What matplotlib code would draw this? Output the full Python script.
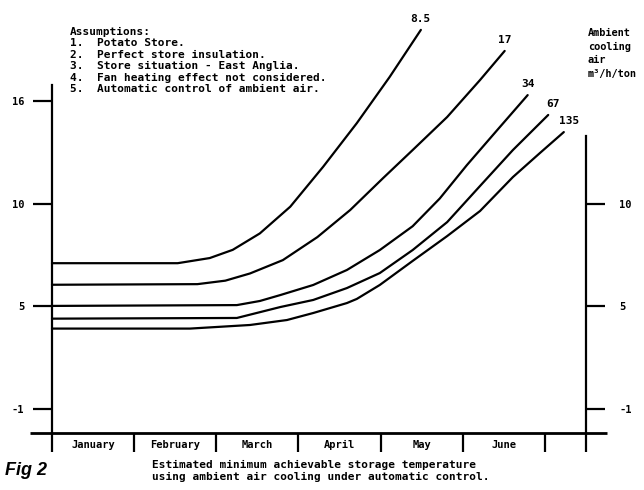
import numpy as np
import matplotlib
matplotlib.use("Agg")
import matplotlib.pyplot as plt

# month axis: 0 = start of January, one unit per month
months = ["January", "February", "March", "April", "May", "June"]
month_edges = [0, 1, 2, 3, 4, 5, 6, 6.5]

# minimum achievable store temperature (deg C) for each airflow rate
airflow_labels = ["8.5", "17", "34", "67", "135"]
x_85 = [0, 1.53, 1.92, 2.20, 2.53, 2.90, 3.30, 3.71, 4.11, 4.49]
t_85 = [7.1, 7.1, 7.35, 7.75, 8.55, 9.85, 12.15, 14.7, 17.4, 20.15]
x_17 = [0, 1.77, 2.11, 2.41, 2.81, 3.23, 3.63, 4.03, 4.39, 4.81, 5.21, 5.51]
t_17 = [6.05, 6.08, 6.25, 6.6, 7.25, 8.37, 9.69, 11.49, 13.13, 15.06, 17.22, 18.92]
x_34 = [0, 2.25, 2.53, 2.78, 3.18, 3.59, 3.99, 4.39, 4.72, 5.05, 5.42, 5.79]
t_34 = [5.02, 5.06, 5.26, 5.55, 6.04, 6.77, 7.74, 8.9, 10.3, 12.25, 14.3, 16.34]
x_67 = [0, 2.25, 2.78, 3.18, 3.59, 3.99, 4.39, 4.81, 5.21, 5.61, 6.04]
t_67 = [4.28, 4.32, 4.96, 5.31, 5.89, 6.62, 7.74, 9.10, 11.03, 13.13, 15.18]
x_135 = [0, 1.68, 2.41, 2.86, 3.18, 3.59, 3.71, 3.99, 4.39, 4.81, 5.21, 5.61, 5.94, 6.23]
t_135 = [3.7, 3.7, 3.91, 4.20, 4.61, 5.16, 5.36, 6.04, 7.21, 8.42, 9.64, 11.55, 12.96, 14.18]

left_ticks = [16, 10, 5, -1]
right_ticks = [10, 5, -1]

assumptions = [
    "Assumptions:",
    "1.  Potato Store.",
    "2.  Perfect store insulation.",
    "3.  Store situation - East Anglia.",
    "4.  Fan heating effect not considered.",
    "5.  Automatic control of ambient air.",
]
caption = ("Estimated minimum achievable storage temperature\n"
           "using ambient air cooling under automatic control.")

# temperature scale: the printed ticks sit at equal spacing
knot_t = np.array([-1.0, 5.0, 10.0, 16.0])
knot_u = np.array([0.0, 1.0, 2.0, 3.0])


def fwd(t):
    t = np.asarray(t, dtype=float)
    u = np.interp(t, knot_t, knot_u)
    u = np.where(t < -1, (t + 1) / 6, u)
    u = np.where(t > 16, 3 + (t - 16) / 6, u)
    return u


def inv(u):
    u = np.asarray(u, dtype=float)
    t = np.interp(u, knot_u, knot_t)
    t = np.where(u < 0, -1 + 6 * u, t)
    t = np.where(u > 3, 16 + 6 * (u - 3), t)
    return t


W, H = 644, 490
mono = "DejaVu Sans Mono"
plt.rcParams["font.family"] = mono

fig = plt.figure(figsize=(W / 100, H / 100), dpi=100)
ax = fig.add_axes([52 / W, (H - 433) / H, 534 / W, 348 / H])

ymin, ymax = -2.4, 16.93
ax.set_yscale("function", functions=(fwd, inv))
ax.set_xlim(0, 6.5)
ax.set_ylim(ymin, ymax)

for xs, ts, lab in zip([x_85, x_17, x_34, x_67, x_135],
                       [t_85, t_17, t_34, t_67, t_135],
                       airflow_labels):
    ax.plot(xs, ts, color="black", lw=1.6, clip_on=False,
            solid_joinstyle="round", solid_capstyle="round")
    dx = 5 if lab in ("67", "135") else 0
    ax.annotate(lab, (xs[-1], ts[-1]), xytext=(dx, 11),
                textcoords="offset pixels", ha="center", va="center",
                fontsize=8, fontweight="bold", annotation_clip=False)

# spines
for s in ["top", "right", "bottom"]:
    ax.spines[s].set_visible(False)
ax.spines["left"].set_linewidth(1.6)

# baseline runs past both uprights
ax.plot([-0.27, 6.76], [ymin, ymin], color="black", lw=2.0,
        clip_on=False, solid_capstyle="butt")

ax.set_xticks(month_edges)
ax.set_xticklabels([])
ax.set_xticks(np.arange(len(months)) + 0.5, months, minor=True)
ax.tick_params(axis="x", which="major", direction="out", length=14,
               width=1.6, color="black")
ax.tick_params(axis="x", which="minor", length=0, pad=5, labelsize=7.5)
for lbl in ax.get_xticklabels(minor=True):
    lbl.set_fontweight("bold")

ax.set_yticks(left_ticks)
ax.set_yticks([], minor=True)
ax.set_yticklabels([str(v) for v in left_ticks])
ax.tick_params(axis="y", which="major", direction="out", length=14,
               width=1.6, pad=6, labelsize=7.5)
for lbl in ax.get_yticklabels():
    lbl.set_fontweight("bold")

# right hand temperature axis
ax2 = ax.twinx()
ax2.set_yscale("function", functions=(fwd, inv))
ax2.set_ylim(ymin, ymax)
for s in ["top", "left", "bottom"]:
    ax2.spines[s].set_visible(False)
ax2.spines["right"].set_linewidth(1.6)
ax2.spines["right"].set_bounds(ymin, 13.95)
ax2.set_yticks(right_ticks)
ax2.set_yticks([], minor=True)
ax2.set_yticklabels([str(v) for v in right_ticks])
ax2.tick_params(axis="y", which="major", direction="out", length=14,
                width=1.6, pad=10, labelsize=7.5)
for lbl in ax2.get_yticklabels():
    lbl.set_fontweight("bold")


def fx(px):
    return px / W


def fy(py):
    return 1 - py / H


fig.text(fx(70), fy(27), "\n".join(assumptions), ha="left", va="top",
         fontsize=8, fontweight="bold", linespacing=1.17)
fig.text(fx(588), fy(28), "Ambient\ncooling\nair\nm³/h/ton", ha="left",
         va="top", fontsize=7.4, fontweight="bold", linespacing=1.45)
fig.text(fx(152), fy(460), caption, ha="left", va="top", fontsize=8,
         fontweight="bold", linespacing=1.3)
fig.text(fx(5), fy(470), "Fig 2", ha="left", va="center", fontsize=13,
         fontweight="bold", fontstyle="italic", family="Liberation Sans")

fig.savefig("out.png", dpi=100)
